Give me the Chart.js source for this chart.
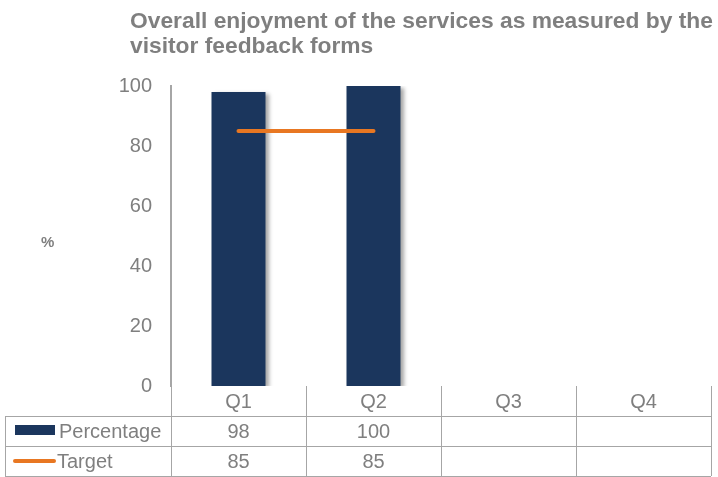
<!DOCTYPE html>
<html>
<head>
<meta charset="utf-8">
<script src="https://cdn.jsdelivr.net/npm/chart.js@4"></script>
<style>
  html, body { margin: 0; padding: 0; background: #fff; }
  #wrap { width: 718px; height: 477px; }
</style>
</head>
<body>
<div id="wrap"><canvas id="chart" width="718" height="477"></canvas></div>
<script>
const quarters = ['Q1', 'Q2', 'Q3', 'Q4']
const percentage = [98, 100, null, null]
const target = [85, 85, null, null]
const yTicks = [0, 20, 40, 60, 80, 100]
const titleLines = ['Overall enjoyment of the services as measured by the', 'visitor feedback forms']

const grey = '#7f7f7f'
const lineGrey = '#a6a6a6'
const navy = '#1b365d'
const orange = '#e87722'
const fontFamily = '"Liberation Sans", Arial, sans-serif'

// soft shadow under the bars
const barShadow = {
  id: 'barShadow',
  beforeDatasetDraw(chart, args) {
    if (args.meta.type !== 'bar') return
    const ctx = chart.ctx
    ctx.save()
    ctx.shadowColor = 'rgba(0,0,0,0.35)'
    ctx.shadowOffsetX = 3
    ctx.shadowOffsetY = 2
    ctx.shadowBlur = 4
  },
  afterDatasetDraw(chart, args) {
    if (args.meta.type !== 'bar') return
    chart.ctx.restore()
  },
}

// title, axis caption and the data table under the axis
const extras = {
  id: 'extras',
  afterDraw(chart) {
    const ctx = chart.ctx
    const x = chart.scales.x
    const area = chart.chartArea
    ctx.save()

    ctx.fillStyle = grey
    ctx.font = 'bold 22.8px ' + fontFamily
    ctx.textAlign = 'left'
    ctx.textBaseline = 'middle'
    titleLines.forEach((t, i) => ctx.fillText(t, 130, 22 + i * 25))

    ctx.font = 'bold 15px ' + fontFamily
    ctx.fillText('%', 41, 243)

    const rowH = 30
    const top = area.bottom
    const left = 5
    const colW = (area.right - area.left) / quarters.length
    const edges = quarters.map((q, i) => x.getPixelForValue(i) - colW / 2)
    edges.push(area.right)

    ctx.strokeStyle = lineGrey
    ctx.lineWidth = 1
    ctx.beginPath()
    ;[1, 2, 3].forEach(r => {
      ctx.moveTo(left, top + r * rowH + 0.5)
      ctx.lineTo(area.right, top + r * rowH + 0.5)
    })
    ctx.moveTo(left + 0.5, top + rowH)
    ctx.lineTo(left + 0.5, top + 3 * rowH)
    edges.forEach(e => {
      ctx.moveTo(Math.round(e) + 0.5, top)
      ctx.lineTo(Math.round(e) + 0.5, top + 3 * rowH)
    })
    ctx.stroke()

    ctx.font = '20px ' + fontFamily
    ctx.fillStyle = grey
    ctx.textAlign = 'center'
    quarters.forEach((q, i) => {
      const cx = x.getPixelForValue(i)
      ctx.fillText(q, cx, top + rowH / 2 + 1)
      if (percentage[i] != null) ctx.fillText(String(percentage[i]), cx, top + rowH * 1.5 + 1)
      if (target[i] != null) ctx.fillText(String(target[i]), cx, top + rowH * 2.5 + 1)
    })

    // legend keys in the first column
    ctx.fillStyle = navy
    ctx.fillRect(15, top + rowH + 9, 40, 10)
    ctx.strokeStyle = orange
    ctx.lineWidth = 4
    ctx.lineCap = 'round'
    ctx.beginPath()
    ctx.moveTo(15, top + rowH * 2.5)
    ctx.lineTo(54, top + rowH * 2.5)
    ctx.stroke()

    ctx.fillStyle = grey
    ctx.textAlign = 'left'
    ctx.fillText('Percentage', 59, top + rowH * 1.5 + 1)
    ctx.fillText('Target', 57, top + rowH * 2.5 + 1)
    ctx.restore()
  },
}

new Chart(document.getElementById('chart'), {
  data: {
    labels: quarters,
    datasets: [
      {
        type: 'bar',
        label: 'Percentage',
        data: percentage,
        backgroundColor: navy,
        categoryPercentage: 1,
        barPercentage: 0.4,
        order: 2,
      },
      {
        type: 'line',
        label: 'Target',
        data: target,
        borderColor: orange,
        borderWidth: 4,
        borderCapStyle: 'round',
        pointRadius: 0,
        spanGaps: false,
        order: 1,
      },
    ],
  },
  options: {
    responsive: false,
    animation: false,
    layout: { padding: { left: 0, top: 86, right: 7, bottom: 91 } },
    plugins: {
      legend: { display: false },
      tooltip: { enabled: false },
      title: { display: false },
    },
    scales: {
      x: {
        display: false,
        offset: true,
      },
      y: {
        min: 0,
        max: 100,
        afterFit: scale => { scale.width = 171 },
        afterBuildTicks: scale => { scale.ticks = yTicks.map(v => ({ value: v })) },
        ticks: {
          color: grey,
          font: { size: 20, family: fontFamily },
          padding: 19,
        },
        grid: { display: false, drawTicks: false },
        border: { display: true, color: lineGrey, width: 2 },
      },
    },
  },
  plugins: [barShadow, extras],
})
</script>
</body>
</html>
